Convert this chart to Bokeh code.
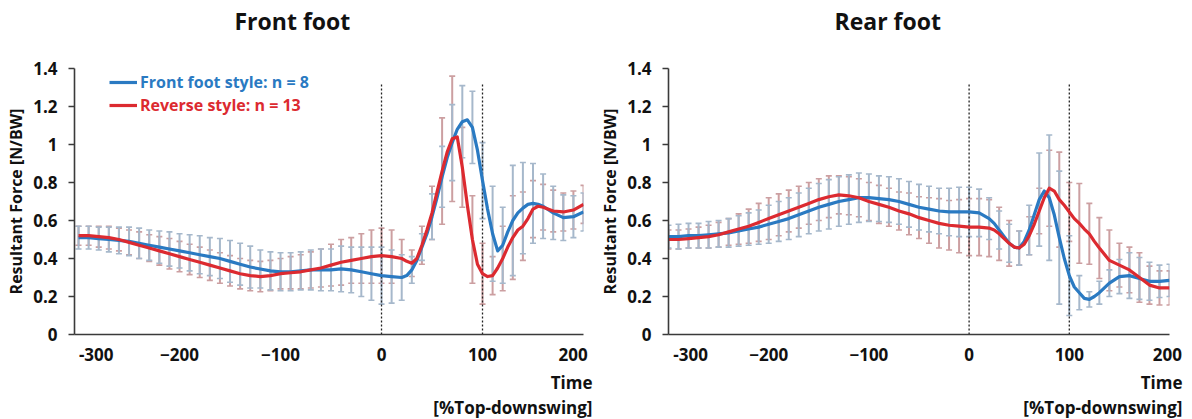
from bokeh.plotting import figure
from bokeh.layouts import row
from bokeh.models import (Range1d, FixedTicker, ColumnDataSource, Whisker, TeeHead,
                          Title, Legend, LegendItem)
from bokeh.embed import file_html
from bokeh.resources import INLINE

# ---------------- data ----------------
time_pct = list(range(-300, 201, 10))          # error-bar sample times [%Top-downswing]
x_ticks = [-300, -200, -100, 0, 100, 200]
y_ticks = [0, 0.2, 0.4, 0.6, 0.8, 1.0, 1.2, 1.4]
event_times = [0, 100]                          # top of backswing / impact
event_line_top = 1.32

# Front foot panel
front_ffs_mean = [0.51, 0.51, 0.505, 0.50, 0.495, 0.49, 0.48, 0.47, 0.46, 0.45,
                  0.44, 0.43, 0.42, 0.41, 0.40, 0.385, 0.37, 0.355, 0.345, 0.335,
                  0.33, 0.33, 0.335, 0.34, 0.34, 0.34, 0.345, 0.34, 0.33, 0.32,
                  0.31, 0.305, 0.30, 0.34, 0.46, 0.62, 0.83, 1.01, 1.12, 1.09,
                  0.81, 0.53, 0.47, 0.60, 0.665, 0.69, 0.675, 0.64, 0.615, 0.62, 0.645]
front_ffs_sd = [0.06, 0.06, 0.06, 0.065, 0.07, 0.075, 0.08, 0.08, 0.085, 0.09,
                0.09, 0.095, 0.10, 0.10, 0.105, 0.11, 0.11, 0.11, 0.10, 0.10,
                0.10, 0.10, 0.10, 0.105, 0.11, 0.11, 0.12, 0.12, 0.13, 0.14,
                0.15, 0.14, 0.12, 0.07, 0.07, 0.12, 0.16, 0.20, 0.19, 0.19,
                0.20, 0.25, 0.20, 0.29, 0.24, 0.21, 0.17, 0.14, 0.12, 0.11, 0.10]
front_rev_mean = [0.52, 0.52, 0.515, 0.51, 0.50, 0.485, 0.47, 0.455, 0.44, 0.425,
                  0.41, 0.395, 0.38, 0.365, 0.35, 0.335, 0.32, 0.31, 0.305, 0.31,
                  0.32, 0.325, 0.33, 0.34, 0.35, 0.365, 0.38, 0.39, 0.40, 0.41,
                  0.415, 0.41, 0.40, 0.375, 0.47, 0.64, 0.86, 1.03, 0.88, 0.50,
                  0.32, 0.31, 0.40, 0.51, 0.57, 0.66, 0.67, 0.65, 0.645, 0.655, 0.685]
front_rev_sd = [0.05, 0.05, 0.055, 0.06, 0.06, 0.065, 0.07, 0.07, 0.075, 0.08,
                0.08, 0.08, 0.08, 0.08, 0.08, 0.08, 0.08, 0.08, 0.08, 0.08,
                0.08, 0.085, 0.09, 0.095, 0.10, 0.11, 0.12, 0.12, 0.13, 0.14,
                0.145, 0.14, 0.10, 0.07, 0.10, 0.14, 0.28, 0.33, 0.21, 0.23,
                0.16, 0.10, 0.17, 0.22, 0.18, 0.15, 0.12, 0.11, 0.10, 0.10, 0.10]
# extra curve samples read between the error-bar times (fast-changing part)
front_detail_t = [25, 35, 45, 55, 65, 75, 85, 95, 105, 115, 125, 135, 145, 155]
front_ffs_detail = [0.31, 0.39, 0.53, 0.72, 0.93, 1.08, 1.13, 0.97, 0.66, 0.44,
                    0.54, 0.64, 0.685, 0.685]
front_rev_detail = [0.385, 0.40, 0.55, 0.75, 0.96, 1.04, 0.68, 0.37, 0.305, 0.35,
                    0.46, 0.55, 0.61, 0.675]

# Rear foot panel
rear_ffs_mean = [0.515, 0.515, 0.52, 0.52, 0.525, 0.53, 0.535, 0.545, 0.555, 0.565,
                 0.58, 0.595, 0.61, 0.63, 0.65, 0.67, 0.685, 0.70, 0.71, 0.72,
                 0.72, 0.715, 0.71, 0.70, 0.685, 0.67, 0.66, 0.65, 0.645, 0.645,
                 0.645, 0.64, 0.61, 0.55, 0.48, 0.455, 0.55, 0.71, 0.72, 0.51,
                 0.31, 0.22, 0.185, 0.22, 0.27, 0.305, 0.31, 0.295, 0.28, 0.28, 0.285]
rear_ffs_sd = [0.06, 0.065, 0.065, 0.065, 0.07, 0.07, 0.075, 0.08, 0.085, 0.09,
               0.10, 0.105, 0.11, 0.115, 0.12, 0.125, 0.13, 0.13, 0.13, 0.13,
               0.125, 0.12, 0.12, 0.12, 0.12, 0.12, 0.12, 0.12, 0.125, 0.13,
               0.13, 0.125, 0.11, 0.10, 0.10, 0.09, 0.13, 0.245, 0.33, 0.35,
               0.21, 0.09, 0.04, 0.06, 0.07, 0.09, 0.12, 0.11, 0.10, 0.085, 0.085]
rear_rev_mean = [0.50, 0.50, 0.505, 0.51, 0.515, 0.525, 0.54, 0.555, 0.57, 0.59,
                 0.61, 0.63, 0.65, 0.67, 0.69, 0.71, 0.725, 0.735, 0.73, 0.72,
                 0.70, 0.685, 0.67, 0.65, 0.635, 0.615, 0.60, 0.585, 0.575, 0.57,
                 0.565, 0.565, 0.56, 0.53, 0.48, 0.455, 0.52, 0.65, 0.77, 0.71,
                 0.645, 0.585, 0.53, 0.455, 0.39, 0.365, 0.34, 0.30, 0.26, 0.245, 0.245]
rear_rev_sd = [0.05, 0.05, 0.05, 0.055, 0.06, 0.065, 0.07, 0.08, 0.09, 0.10,
               0.11, 0.11, 0.11, 0.11, 0.11, 0.11, 0.11, 0.10, 0.10, 0.10,
               0.10, 0.10, 0.10, 0.10, 0.11, 0.11, 0.12, 0.13, 0.13, 0.14,
               0.15, 0.15, 0.15, 0.14, 0.12, 0.09, 0.10, 0.12, 0.20, 0.25,
               0.155, 0.21, 0.16, 0.16, 0.16, 0.115, 0.12, 0.13, 0.10, 0.09, 0.09]
rear_detail_t = [25, 35, 45, 55, 65, 75, 85, 95, 105, 115, 125]
rear_ffs_detail = [0.585, 0.515, 0.46, 0.49, 0.63, 0.755, 0.63, 0.40, 0.25, 0.19, 0.20]
rear_rev_detail = [0.55, 0.505, 0.46, 0.475, 0.58, 0.72, 0.755, 0.68, 0.61, 0.555, 0.49]

series_labels = ["Front foot style: n = 8", "Reverse style: n = 13"]
panel_titles = ["Front foot", "Rear foot"]
x_title_lines = ["Time", "[%Top-downswing]"]
y_title = "Resultant Force [N/BW]"

# ---------------- style ----------------
BLUE = "#2a7ac2"
RED = "#dc2a30"
BLUE_BAR = "#a6b8cb"
RED_BAR = "#cc9fa1"
FONT = "Open Sans"
AXIS_COLOR = "#3a3a3a"
TXT = "#111111"
NB = "\u00a0"


def merged(t, m, dt, dm):
    pairs = sorted(zip(list(t) + list(dt), list(m) + list(dm)))
    return [p[0] for p in pairs], [p[1] for p in pairs]


def make_panel(title, title_off, xr, m_ffs, sd_ffs, m_rev, sd_rev, dt, d_ffs, d_rev,
               width, border_left, border_right, first_pad, last_pad, xt_off,
               legend=False):
    p = figure(width=width, height=418, x_range=Range1d(*xr), y_range=Range1d(0, 1.4),
               output_backend="svg", toolbar_location=None,
               min_border_left=border_left, min_border_right=border_right,
               min_border_top=68, min_border_bottom=77)
    p.outline_line_color = None
    p.grid.visible = False
    p.background_fill_color = "white"
    p.border_fill_color = "white"

    # error bars
    for m, sd, col in ((m_rev, sd_rev, RED_BAR), (m_ffs, sd_ffs, BLUE_BAR)):
        src = ColumnDataSource(dict(t=time_pct,
                                    up=[a + b for a, b in zip(m, sd)],
                                    lo=[a - b for a, b in zip(m, sd)]))
        w = Whisker(base="t", upper="up", lower="lo", source=src,
                    line_color=col, line_width=2,
                    upper_head=TeeHead(size=6, line_color=col, line_width=1.6),
                    lower_head=TeeHead(size=6, line_color=col, line_width=1.6))
        p.add_layout(w)

    # event lines
    p.segment(x0=event_times, x1=event_times, y0=[0, 0], y1=[event_line_top] * 2,
              line_color="#222222", line_width=1.3, line_dash="2 2")

    xb, yb = merged(time_pct, m_ffs, dt, d_ffs)
    xr_, yr_ = merged(time_pct, m_rev, dt, d_rev)
    rb = p.line(xb, yb, line_color=BLUE, line_width=3.2, line_join="round")
    rr = p.line(xr_, yr_, line_color=RED, line_width=3.2, line_join="round")

    # axes
    p.xaxis.ticker = FixedTicker(ticks=x_ticks)
    p.yaxis.ticker = FixedTicker(ticks=y_ticks)
    p.xaxis.major_label_overrides = {-300: NB * first_pad + "-300",
                                     200: "200" + NB * last_pad}
    p.yaxis.major_label_overrides = {0: "0", 1: "1"}
    for ax in (p.xaxis, p.yaxis):
        ax.axis_line_color = AXIS_COLOR
        ax.axis_line_width = 1.6
        ax.major_tick_line_color = AXIS_COLOR
        ax.major_tick_line_width = 1.6
        ax.minor_tick_line_color = None
        ax.major_tick_in = 0
        ax.major_label_text_font = FONT
        ax.major_label_text_font_style = "bold"
        ax.major_label_text_font_size = "17px"
        ax.major_label_text_color = TXT
    p.xaxis.major_tick_out = 0
    p.xaxis.major_label_standoff = 8
    p.yaxis.major_tick_out = 6
    p.yaxis.major_label_standoff = 11
    p.yaxis.axis_label = y_title
    p.yaxis.axis_label_text_font = FONT
    p.yaxis.axis_label_text_font_style = "bold"
    p.yaxis.axis_label_text_font_size = "16px"
    p.yaxis.axis_label_text_color = TXT
    p.yaxis.axis_label_standoff = 3

    # x axis title (right aligned, two lines)
    for txt in x_title_lines:
        p.add_layout(Title(text=txt, align="right", offset=xt_off, standoff=0,
                           text_font=FONT, text_font_style="bold",
                           text_font_size="17px", text_color=TXT), "below")
    # panel title (an empty second line lifts it towards the top of the chart)
    p.add_layout(Title(text=title + "\n", align="left", offset=title_off, standoff=0,
                       text_font=FONT, text_font_style="bold", text_font_size="23px",
                       text_color=TXT), "above")

    if legend:
        for lab, r, col, yloc in ((series_labels[0], rb, BLUE, 241),
                                  (series_labels[1], rr, RED, 218)):
            lg = Legend(items=[LegendItem(label=lab, renderers=[r])], location=(35, yloc),
                        label_text_color=col, label_text_font=FONT,
                        label_text_font_style="bold", label_text_font_size="16px",
                        glyph_width=28, glyph_height=20, label_height=20, label_standoff=3,
                        padding=0, margin=0, spacing=0, border_line_alpha=0,
                        background_fill_alpha=0)
            p.add_layout(lg)
    return p


p1 = make_panel(panel_titles[0], 160, (-304, 200), front_ffs_mean, front_ffs_sd,
                front_rev_mean, front_rev_sd, front_detail_t, front_ffs_detail,
                front_rev_detail, 596, 74, 13, 8, 2, -9, legend=True)
p2 = make_panel(panel_titles[1], 166, (-300, 200), rear_ffs_mean, rear_ffs_sd,
                rear_rev_mean, rear_rev_sd, rear_detail_t, rear_ffs_detail,
                rear_rev_detail, 590, 67, 17, 10, 1, -13)

layout = row(p1, p2)
open("out.html", "w").write(file_html(layout, INLINE))
